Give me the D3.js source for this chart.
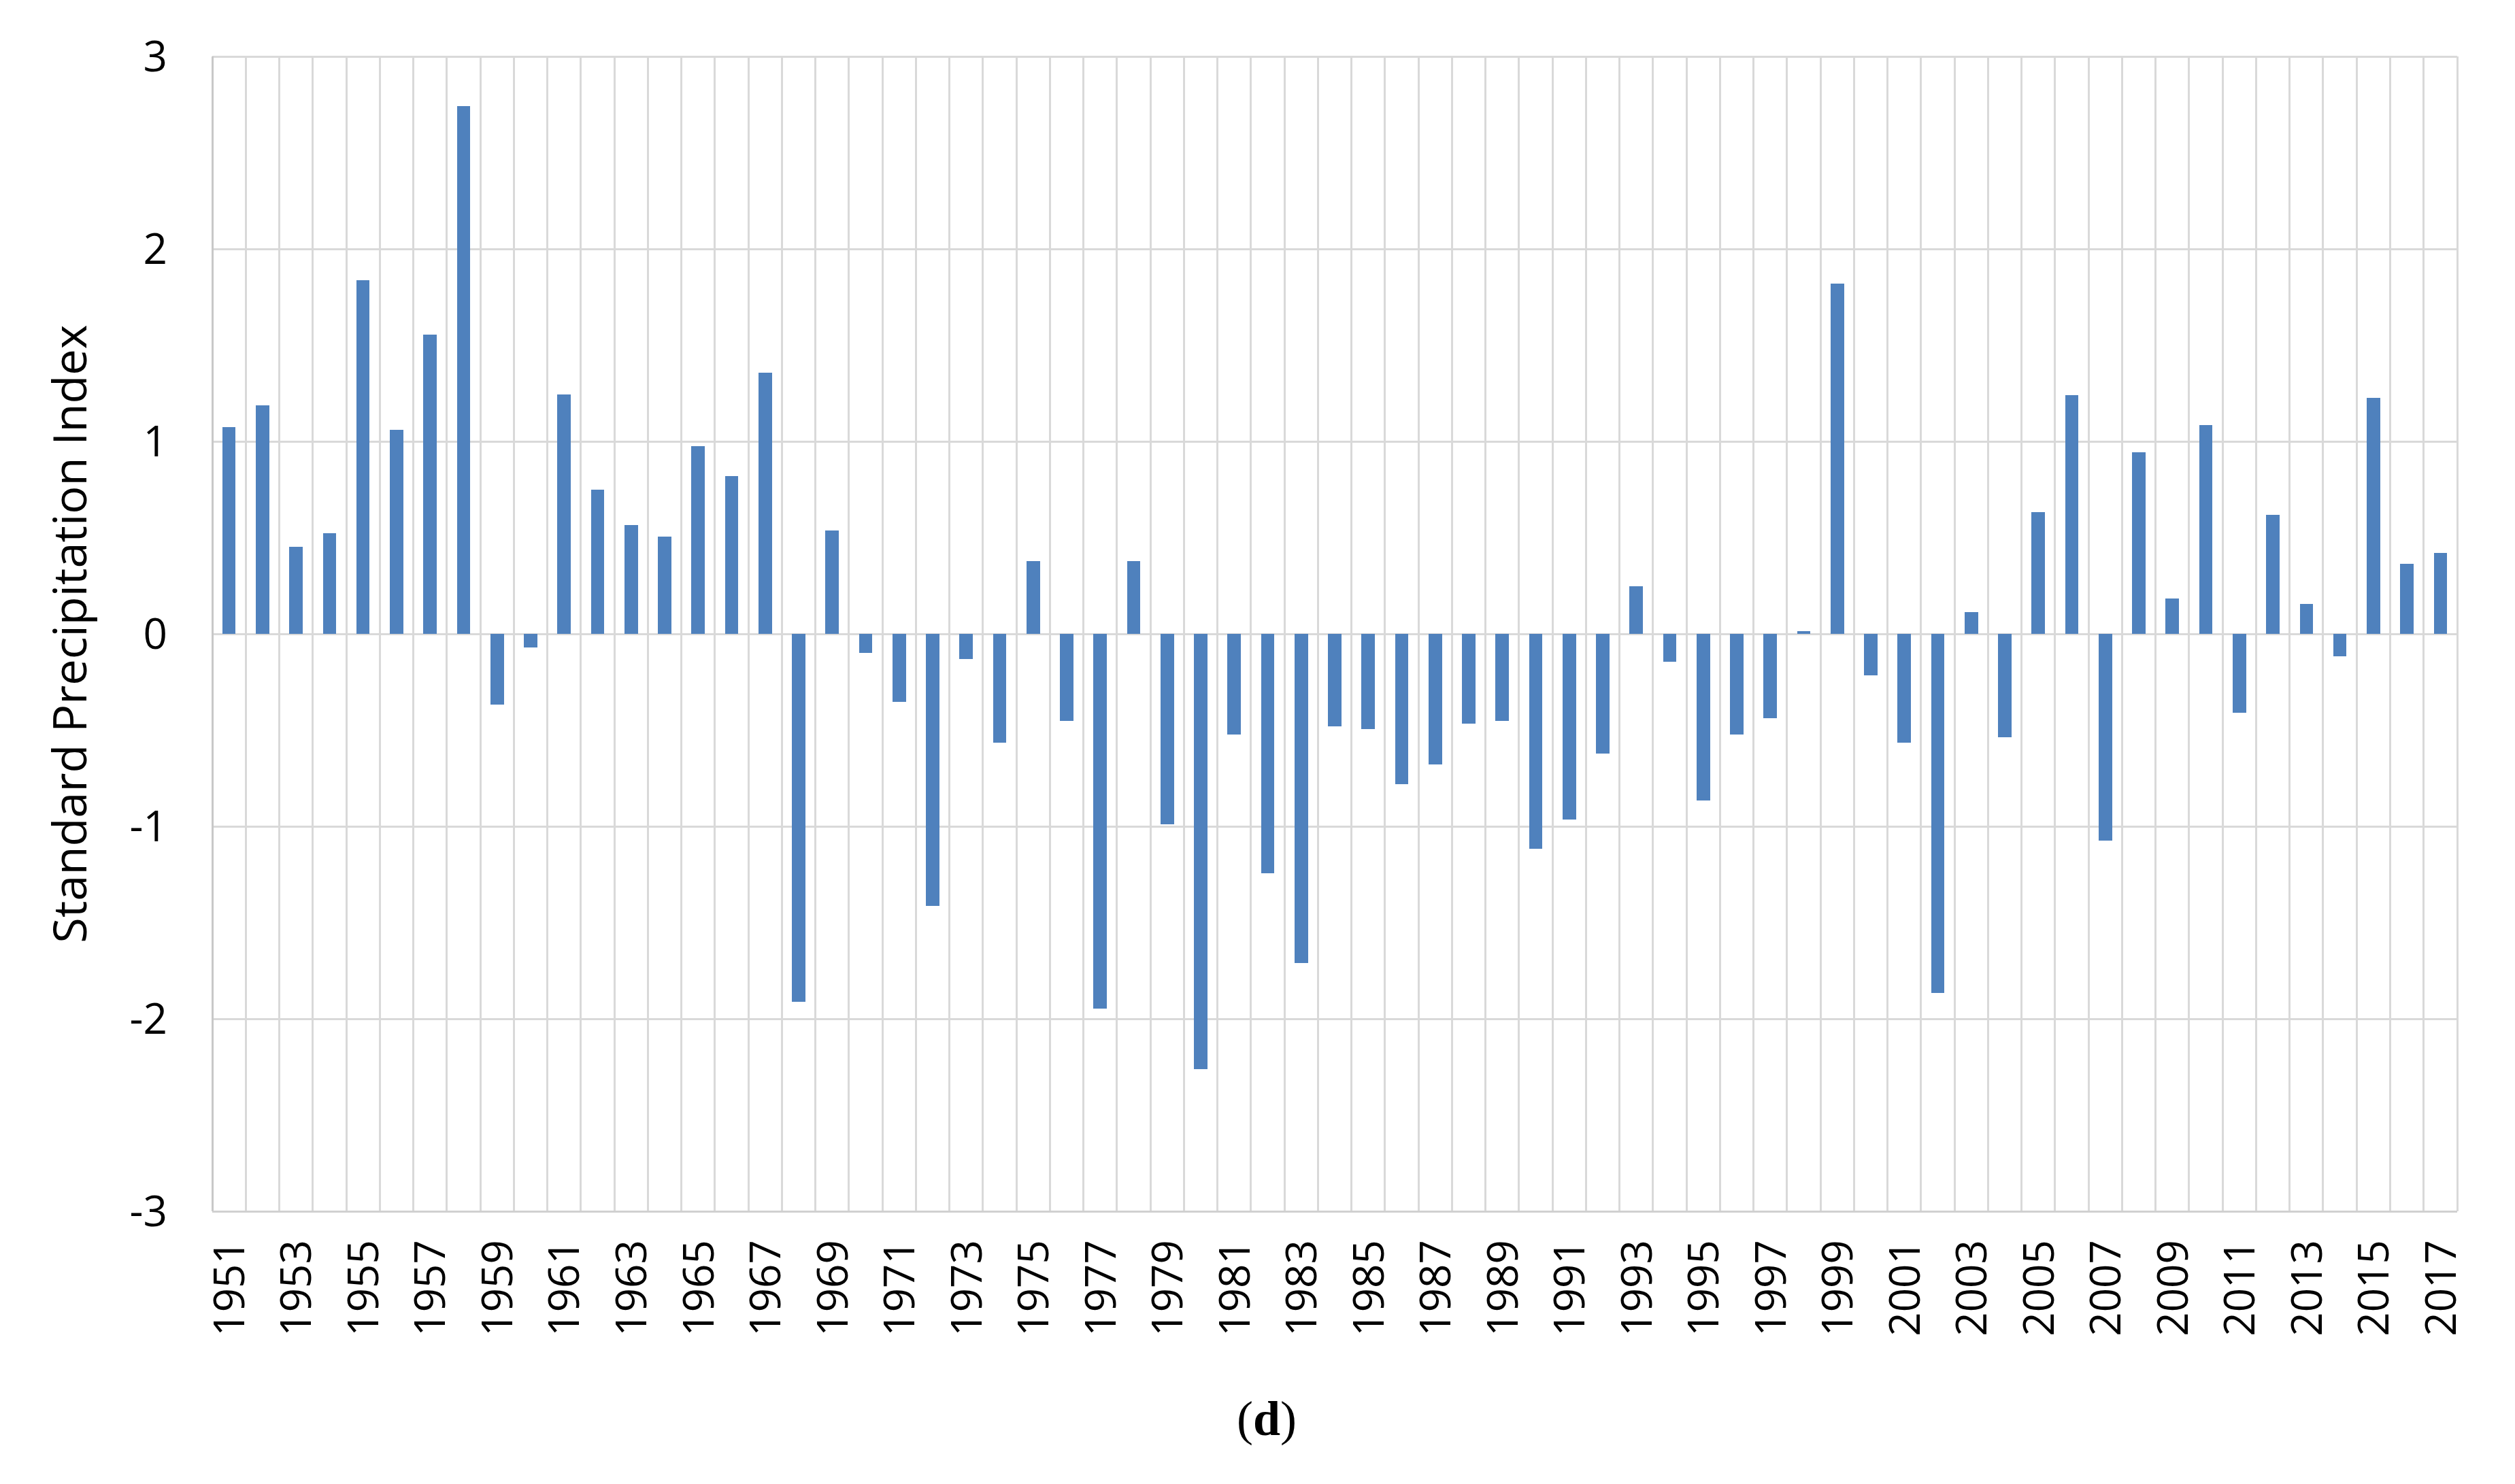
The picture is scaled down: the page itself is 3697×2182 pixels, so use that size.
<!DOCTYPE html>
<html>
<head>
<meta charset="utf-8">
<script src="https://cdn.jsdelivr.net/npm/d3@7"></script>
<style>
  html, body { margin: 0; padding: 0; background: #ffffff; }
  svg { display: block; }
</style>
</head>
<body>
<script>
// ---- data ----
const years = d3.range(1951, 2018).map(String);
const spiValues = [
  1.074, 1.187, 0.453, 0.523, 1.838, 1.061, 1.554, 2.743, -0.368, -0.070,
  1.243, 0.750, 0.565, 0.507, 0.974, 0.820, 1.357, -1.910, 0.536, -0.099,
  -0.355, -1.412, -0.130, -0.566, 0.379, -0.453, -1.947, 0.379, -0.991, -2.263,
  -0.524, -1.244, -1.711, -0.481, -0.495, -0.780, -0.678, -0.467, -0.453, -1.117,
  -0.963, -0.622, 0.249, -0.144, -0.864, -0.524, -0.439, 0.014, 1.820, -0.214,
  -0.566, -1.866, 0.112, -0.538, 0.632, 1.240, -1.075, 0.945, 0.183, 1.086,
  -0.411, 0.618, 0.155, -0.116, 1.226, 0.365, 0.422
];
const yTicks = [-3, -2, -1, 0, 1, 2, 3];
const xTickLabels = years.filter((d, i) => i % 2 === 0);
const yAxisTitle = "Standard Precipitation Index";
const caption = { open: "(", letter: "d", close: ")" };

// ---- layout ----
const W = 3697, H = 2182;
const plot = { left: 312, right: 3612, top: 83, bottom: 1781 };

const svg = d3.select("body").append("svg")
  .attr("width", W).attr("height", H)
  .attr("viewBox", `0 0 ${W} ${H}`);

svg.append("rect").attr("width", W).attr("height", H).attr("fill", "#ffffff");

const x = d3.scaleBand()
  .domain(years)
  .range([plot.left, plot.right])
  .paddingInner(0.6)
  .paddingOuter(0.3);

const y = d3.scaleLinear().domain([-3, 3]).range([plot.bottom, plot.top]);

const step = x.step();
const outer = step * 0.3;

const gridColor = "#d9d9d9";
const fontSans = "'Open Sans', 'Noto Sans', 'DejaVu Sans', sans-serif";

// horizontal gridlines
svg.append("g").selectAll("line").data(yTicks).join("line")
  .attr("x1", plot.left).attr("x2", plot.right)
  .attr("y1", d => y(d)).attr("y2", d => y(d))
  .attr("stroke", gridColor).attr("stroke-width", 3)
  .attr("shape-rendering", "crispEdges");

// vertical gridlines at category boundaries
const boundaries = years.map(d => x(d) - outer).concat([x(years[years.length - 1]) - outer + step]);
svg.append("g").selectAll("line").data(boundaries).join("line")
  .attr("x1", d => d).attr("x2", d => d)
  .attr("y1", plot.top).attr("y2", plot.bottom)
  .attr("stroke", gridColor).attr("stroke-width", 3)
  .attr("shape-rendering", "crispEdges");

// axis lines (left and bottom)
svg.append("line")
  .attr("x1", plot.left).attr("x2", plot.left)
  .attr("y1", plot.top).attr("y2", plot.bottom)
  .attr("stroke", "#c8c8c8").attr("stroke-width", 3)
  .attr("shape-rendering", "crispEdges");
svg.append("line")
  .attr("x1", plot.left).attr("x2", plot.right)
  .attr("y1", plot.bottom).attr("y2", plot.bottom)
  .attr("stroke", "#d0d0d0").attr("stroke-width", 3)
  .attr("shape-rendering", "crispEdges");

// bars
const data = years.map((yr, i) => ({ year: yr, value: spiValues[i] }));
svg.append("g").selectAll("rect").data(data).join("rect")
  .attr("x", d => x(d.year))
  .attr("width", x.bandwidth())
  .attr("y", d => Math.min(y(0), y(d.value)))
  .attr("height", d => Math.max(1, Math.abs(y(d.value) - y(0))))
  .attr("fill", "#4f81bd")
  .attr("shape-rendering", "crispEdges");

// y tick labels
svg.append("g").selectAll("text").data(yTicks).join("text")
  .attr("x", 246)
  .attr("y", d => y(d))
  .attr("dy", "0.36em")
  .attr("text-anchor", "end")
  .attr("font-family", fontSans)
  .attr("font-size", 62)
  .attr("fill", "#000")
  .text(d => d);

// x tick labels (rotated)
svg.append("g").selectAll("text").data(xTickLabels).join("text")
  .attr("transform", d => `translate(${x(d) + x.bandwidth() / 2},1823) rotate(-90)`)
  .attr("dy", "0.36em")
  .attr("text-anchor", "end")
  .attr("font-family", fontSans)
  .attr("font-size", 62)
  .attr("fill", "#000")
  .text(d => d);

// y-axis title
svg.append("text")
  .attr("transform", `translate(127,${(plot.top + plot.bottom) / 2}) rotate(-90)`)
  .attr("text-anchor", "middle")
  .attr("font-family", fontSans)
  .attr("font-size", 68.5)
  .attr("fill", "#000")
  .text(yAxisTitle);

// caption (d)
const cap = svg.append("text")
  .attr("x", 1862).attr("y", 2110)
  .attr("text-anchor", "middle")
  .attr("font-family", "'Liberation Serif', 'Times New Roman', serif")
  .attr("font-size", 72)
  .attr("fill", "#000");
cap.append("tspan").text(caption.open);
cap.append("tspan").attr("font-weight", "bold").text(caption.letter);
cap.append("tspan").text(caption.close);
</script>
</body>
</html>
